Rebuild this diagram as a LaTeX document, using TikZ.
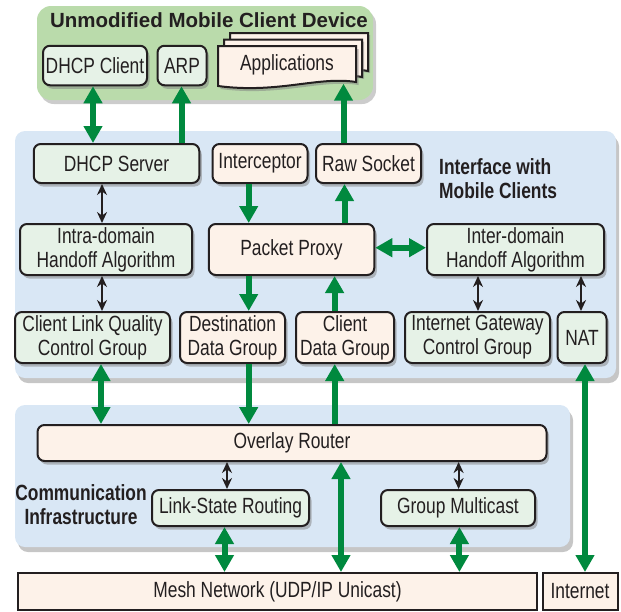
\documentclass[tikz,border=0pt]{standalone}
\usepackage{fontspec}
\setmainfont{Liberation Sans}[FakeStretch=0.79]
\newfontfamily\titlefont{Liberation Sans}
\usetikzlibrary{arrows.meta,shadows}

\newlength{\du}
\setlength{\du}{1pt}

\definecolor{dialineblack}{rgb}{0.137255, 0.121569, 0.125490}
\definecolor{dialinegreen}{rgb}{0.000000, 0.537255, 0.243137}
\definecolor{devicegreen}{rgb}{0.729412, 0.858824, 0.670588}
\definecolor{areablue}{rgb}{0.850980, 0.905882, 0.960784}
\definecolor{ctrlfill}{rgb}{0.901961, 0.949020, 0.905882}
\definecolor{datafill}{rgb}{0.992157, 0.949020, 0.913725}

\newcommand{\boxfont}{\fontsize{22}{24}\selectfont}

\tikzset{
  ctrlbox/.style={draw=dialineblack, line width=2\du, rounded corners=7\du,
    fill=ctrlfill, text=dialineblack, align=center, inner sep=0pt,
    font=\boxfont,
    drop shadow={shadow xshift=2.5\du, shadow yshift=-3.5\du, opacity=0.5}},
  databox/.style={ctrlbox, fill=datafill},
  netbox/.style={draw=dialineblack, line width=2\du, fill=datafill,
    text=dialineblack, align=center, inner sep=0pt, font=\boxfont},
  areatitle/.style={text=dialineblack, font=\fontsize{22}{24}\selectfont\bfseries, inner sep=0pt},
  gone/.style={draw=dialinegreen, fill=dialinegreen, line width=6\du,
    arrows={-Triangle[length=17pt,width=18pt]}},
  gboth/.style={gone, arrows={Triangle[length=17pt,width=18pt]-Triangle[length=17pt,width=18pt]}},
  bboth/.style={draw=dialineblack, line width=2\du,
    arrows={Stealth[length=11pt,width=10pt]-Stealth[length=11pt,width=10pt]}}
}

\begin{document}
\begin{tikzpicture}[x=1\du, y=-1\du]
\useasboundingbox (0,0) rectangle (621,611);

% areas
\fill[devicegreen, rounded corners=14\du,
  drop shadow={shadow xshift=3\du, shadow yshift=-4\du, opacity=0.4}]
  (37,6) rectangle (373,100);
\fill[areablue, rounded corners=10\du,
  drop shadow={shadow xshift=3\du, shadow yshift=-5\du, opacity=0.45}]
  (15,131) rectangle (616,378);
\fill[areablue, rounded corners=10\du,
  drop shadow={shadow xshift=3\du, shadow yshift=-5\du, opacity=0.45}]
  (15,405) rectangle (570,547);

\node[text=dialineblack, font=\titlefont\fontsize{20.5}{24}\selectfont\bfseries, inner sep=0pt]
  (devicetitle) at (209,20.5) {Unmodified Mobile Client Device};
\node[areatitle, anchor=west, align=left] (ifacetitle) at (439,179)
  {Interface with\\Mobile Clients};
\node[areatitle, align=center] (commtitle) at (81,505)
  {Communication\\Infrastructure};

% client device
\node[ctrlbox, minimum width=104\du, minimum height=39.5\du] (dhcpclient) at (95,65.5) {DHCP Client};
\node[ctrlbox, minimum width=49\du, minimum height=39.5\du] (arp) at (182,65.5) {ARP};
% stacked applications
\filldraw[fill=datafill, draw=dialineblack, line width=2\du,
  drop shadow={shadow xshift=2\du, shadow yshift=-2\du, opacity=0.5}]
  (230,33) -- (368,33) -- (368,71) .. controls (330,64) and (290,82) .. (230,74) -- cycle;
\filldraw[fill=datafill, draw=dialineblack, line width=2\du,
  drop shadow={shadow xshift=2\du, shadow yshift=-2\du, opacity=0.5}]
  (224,39.5) -- (362,39.5) -- (362,77) .. controls (324,70) and (284,88) .. (224,80) -- cycle;
\filldraw[fill=datafill, draw=dialineblack, line width=2\du,
  drop shadow={shadow xshift=2.5\du, shadow yshift=-3\du, opacity=0.5}]
  (218,46) -- (356,46) -- (356,82) .. controls (318,76) and (278,94) .. (218,86) -- cycle;
\node[text=dialineblack, font=\boxfont, minimum width=138\du, minimum height=37\du, inner sep=0pt]
  (apps) at (287,65) {\raisebox{3\du}{Applications}};

% interface with mobile clients
\node[ctrlbox, minimum width=165.5\du, minimum height=39\du] (dhcpserver) at (116.5,163.5) {DHCP Server};
\node[databox, minimum width=95\du, minimum height=39\du] (interceptor) at (260,163.5) {Interceptor};
\node[databox, minimum width=105\du, minimum height=39\du] (rawsocket) at (368.5,163.5) {Raw Socket};
\node[ctrlbox, minimum width=172\du, minimum height=51\du] (intra) at (106,249.5) {Intra-domain\\Handoff Algorithm};
\node[databox, minimum width=165.5\du, minimum height=51\du] (proxy) at (291.5,249.5) {Packet Proxy};
\node[ctrlbox, minimum width=177\du, minimum height=51\du] (inter) at (515.5,249.5) {Inter-domain\\Handoff Algorithm};
\node[ctrlbox, minimum width=155\du, minimum height=51\du] (clq) at (92.5,337.5) {Client Link Quality\\Control Group};
\node[databox, minimum width=105\du, minimum height=51\du] (dest) at (232.5,337.5) {Destination\\Data Group};
\node[databox, minimum width=98\du, minimum height=51\du] (client) at (345,337.5) {Client\\Data Group};
\node[ctrlbox, minimum width=145\du, minimum height=51\du] (igw) at (477.5,337.5) {Internet Gateway\\Control Group};
\node[ctrlbox, minimum width=49\du, minimum height=51\du] (nat) at (582,337.5) {NAT};

% communication infrastructure
\node[databox, minimum width=509\du, minimum height=36\du] (overlay) at (292,443) {Overlay Router};
\node[ctrlbox, minimum width=157\du, minimum height=36\du] (lsr) at (230.5,508) {Link-State Routing};
\node[ctrlbox, minimum width=154\du, minimum height=36\du] (gm) at (458,508) {Group Multicast};
\node[netbox, minimum width=519\du, minimum height=37\du] (mesh) at (277.5,591.5) {Mesh Network (UDP/IP Unicast)};
\node[netbox, minimum width=75\du, minimum height=37\du] (internet) at (580,591.5) {\raisebox{2\du}{Internet}};

% connectors
\draw[gboth] (93,0 |- dhcpclient.south) -- (93,0 |- dhcpserver.north);
\draw[gone] (181.5,0 |- dhcpserver.north) -- (181.5,0 |- arp.south);
\draw[gone] (343.5,0 |- rawsocket.north) -- (343.5,0 |- apps.south);
\draw[gone] (248.7,0 |- interceptor.south) -- (248.7,0 |- proxy.north);
\draw[gone] (344.5,0 |- proxy.north) -- (344.5,0 |- rawsocket.south);
\draw[bboth] (102,0 |- dhcpserver.south) -- (102,0 |- intra.north);
\draw[gboth] (proxy.east |- 0,247.7) -- (inter.west |- 0,247.7);
\draw[bboth] (102,0 |- intra.south) -- (102,0 |- clq.north);
\draw[gone] (248.7,0 |- proxy.south) -- (248.7,0 |- dest.north);
\draw[gone] (334.6,0 |- client.north) -- (334.6,0 |- proxy.south);
\draw[bboth] (478,0 |- inter.south) -- (478,0 |- igw.north);
\draw[bboth] (581,0 |- inter.south) -- (581,0 |- nat.north);
\draw[gboth] (101,0 |- clq.south) -- (101,0 |- overlay.north);
\draw[gone] (248.7,0 |- dest.south) -- (248.7,0 |- overlay.north);
\draw[gone] (334.7,0 |- overlay.north) -- (334.7,0 |- client.south);
\draw[gboth] (585,0 |- nat.south) -- (585,0 |- internet.north);
\draw[bboth] (227,0 |- overlay.south) -- (227,0 |- lsr.north);
\draw[bboth] (458.6,0 |- overlay.south) -- (458.6,0 |- gm.north);
\draw[gboth] (224.5,0 |- lsr.south) -- (224.5,0 |- mesh.north);
\draw[gboth] (341,0 |- overlay.south) -- (341,0 |- mesh.north);
\draw[gboth] (459.4,0 |- gm.south) -- (459.4,0 |- mesh.north);
\end{tikzpicture}
\end{document}
